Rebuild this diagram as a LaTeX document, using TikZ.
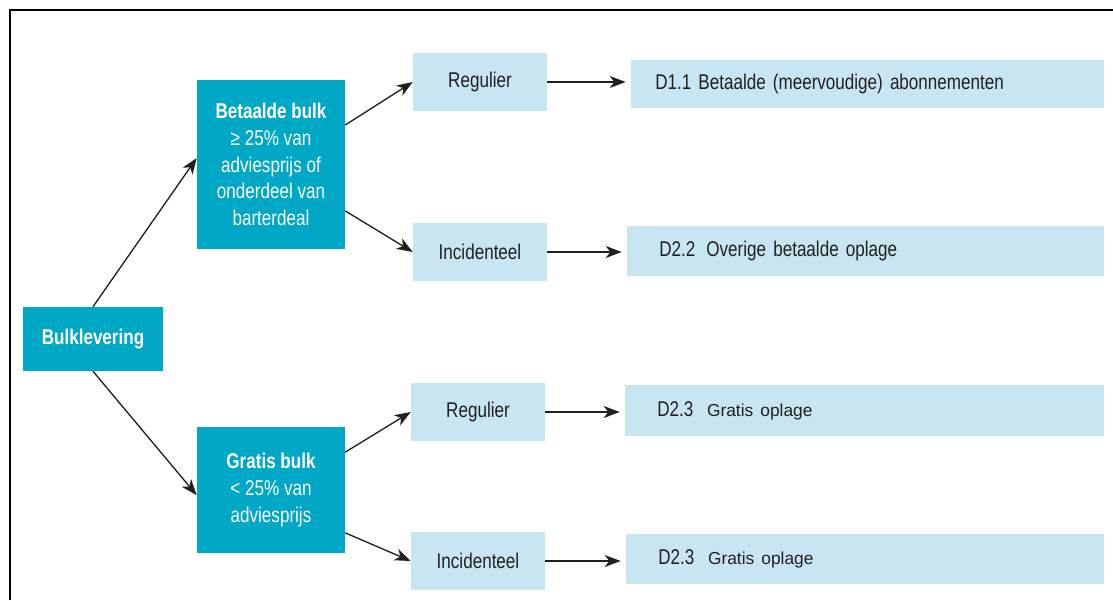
\documentclass[tikz,border=0pt]{standalone}
\usepackage{fontspec}
\setmainfont{Liberation Sans}[FakeStretch=0.8]
\newfontfamily\widefont{Liberation Sans}
\usetikzlibrary{arrows.meta}

\definecolor{bulkblue}{RGB}{0,168,198}
\definecolor{paleblue}{RGB}{200,230,241}
\definecolor{inkgray}{RGB}{35,31,32}

\begin{document}
\begin{tikzpicture}[x=0.75pt, y=-0.75pt, >={Stealth[length=12pt,width=9pt,inset=3.5pt]},
  darkbox/.style={fill=bulkblue, text=white, align=center, inner sep=0pt,
    font=\fontsize{16}{20}\selectfont},
  lightbox/.style={fill=paleblue, text=inkgray, inner sep=0pt,
    minimum width=100.5pt, minimum height=43.5pt, font=\fontsize{16}{20}\selectfont},
  outbox/.style={fill=paleblue, text=inkgray, anchor=west, inner ysep=0pt,
    minimum height=38pt, align=left, font=\fontsize{16}{20}\selectfont},
  link/.style={->, draw=inkgray, line width=1pt}]
  \useasboundingbox (0,0) rectangle (1113,600);

  % Frame
  \draw[line width=2.2pt] (10,600) -- (10,10) -- (1113,10);

  % Bulk boxes
  \node[darkbox, minimum width=105pt, minimum height=48pt] (bulk) at (93,339)
    {\bfseries Bulklevering};
  \node[darkbox, minimum width=111pt, minimum height=126.75pt] (betaald) at (271,164.5)
    {\bfseries Betaalde bulk\\≥ 25\% van\\adviesprijs of\\onderdeel van\\barterdeal};
  \node[darkbox, minimum width=111pt, minimum height=94.5pt] (gratis) at (271,490)
    {\bfseries Gratis bulk\\< 25\% van\\adviesprijs};

  % Frequency boxes
  \node[lightbox] (regA) at (480,82) {Regulier};
  \node[lightbox] (incA) at (480,252) {Incidenteel};
  \node[lightbox] (regB) at (478,412) {Regulier};
  \node[lightbox] (incB) at (478,561) {Incidenteel};

  % Outcome boxes
  \node[outbox, inner xsep=18pt, text width=318.75pt, minimum height=36pt] (dA) at (631,84)
    {D1.1 Betaalde (meervoudige) abonnementen};
  \node[outbox, inner xsep=24pt, text width=309.75pt] (dB) at (627,251)
    {D2.2\hspace{3pt} Overige betaalde oplage};
  \node[outbox, inner xsep=24pt, text width=311.25pt] (dC) at (625,410.5)
    {D2.3\hspace{5pt} {\widefont\fontsize{13}{16}\selectfont Gratis oplage}};
  \node[outbox, inner xsep=24pt, text width=310.5pt] (dD) at (626,559)
    {D2.3\hspace{5pt} {\widefont\fontsize{13}{16}\selectfont Gratis oplage}};

  % Arrows
  \draw[link] (bulk.north) -- (betaald.175);
  \draw[link] (bulk.south) -- (gratis.184);
  \draw[link] (betaald.28) -- (regA.west);
  \draw[link] (betaald.-32) -- (incA.west);
  \draw[link] (gratis.27) -- (regB.west);
  \draw[link] (gratis.-30) -- (incB.west);
  \foreach \src/\dst in {regA/dA, incA/dB, regB/dC, incB/dD} {
    \draw[link, shorten >=4pt] (\src.east) -- (\src.east -| \dst.west);
  }
\end{tikzpicture}
\end{document}
